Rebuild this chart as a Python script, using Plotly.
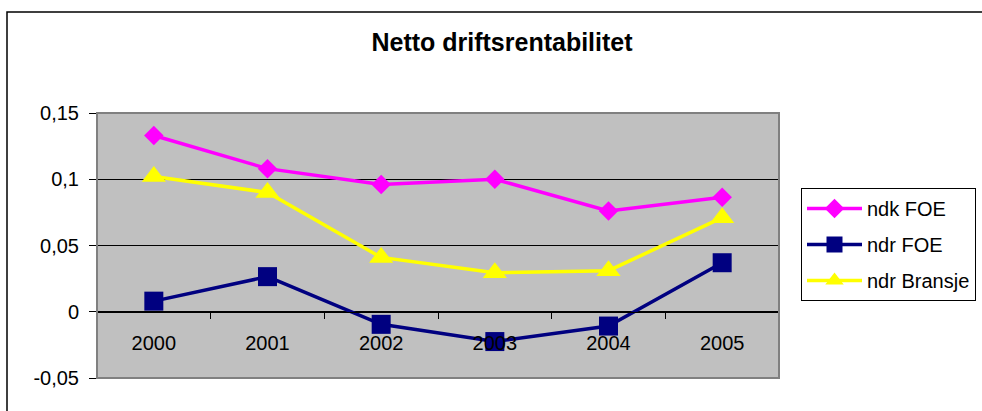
import plotly.graph_objects as go

years = ["2000", "2001", "2002", "2003", "2004", "2005"]
ndk_foe = [0.133, 0.108, 0.096, 0.100, 0.076, 0.0865]
ndr_foe = [0.008, 0.0265, -0.0095, -0.0225, -0.0108, 0.037]
ndr_bransje = [0.102, 0.090, 0.041, 0.0295, 0.031, 0.071]

y_ticks = [-0.05, 0, 0.05, 0.1, 0.15]
y_labels = ["-0,05", "0", "0,05", "0,1", "0,15"]

W, H = 982, 411
# plot area in pixels
left, right, top, bottom = 97, 779, 113, 378
y_range = [-0.05, 0.15]
zero_frac = 1 - (bottom - (0 - y_range[0]) / (y_range[1] - y_range[0]) * (bottom - top)) / H

font = "Arial, Liberation Sans, sans-serif"

fig = go.Figure()
series = [
    ("ndk FOE", ndk_foe, "#FF00FF", "diamond", 15),
    ("ndr FOE", ndr_foe, "#000080", "square", 19),
    ("ndr Bransje", ndr_bransje, "#FFFF00", "triangle-up", 21),
]
for name, vals, color, symbol, size in series:
    fig.add_trace(
        go.Scatter(
            x=years,
            y=vals,
            name=name,
            mode="lines+markers",
            line={"color": color, "width": 3.5},
            marker={"symbol": symbol, "size": size, "color": color},
            legendgroup=name,
        )
    )

# chart outer border (open on right/bottom, beyond the window)
fig.add_shape(
    type="rect", xref="paper", yref="paper",
    x0=7 / W, x1=1.05, y0=-0.1, y1=1 - 12 / H,
    line={"color": "black", "width": 1.5}, layer="below",
)
# plot area border
fig.add_shape(
    type="rect", xref="x domain", yref="y domain",
    x0=0, x1=1, y0=0, y1=1,
    line={"color": "#808080", "width": 2},
)

fig.update_layout(
    width=W,
    height=H,
    margin={"l": 0, "r": 0, "t": 0, "b": 0, "autoexpand": False},
    paper_bgcolor="white",
    plot_bgcolor="#C0C0C0",
    font={"family": font, "size": 20, "color": "black"},
    title={
        "text": "<b>Netto driftsrentabilitet</b>",
        "x": 502 / W,
        "xanchor": "center",
        "y": 1 - 42 / H,
        "yanchor": "middle",
        "font": {"size": 25, "family": font},
    },
    legend={
        "x": 801 / W,
        "y": 1 - 188 / H,
        "xanchor": "left",
        "yanchor": "top",
        "bgcolor": "white",
        "bordercolor": "black",
        "borderwidth": 1,
        "font": {"size": 20},
        "itemwidth": 55,
        "tracegroupgap": 7,
    },
    showlegend=True,
)
fig.update_xaxes(
    domain=[left / W, right / W],
    type="category",
    range=[-0.5, len(years) - 0.5],
    anchor="free",
    position=zero_frac,
    showgrid=False,
    showline=True,
    linecolor="black",
    linewidth=1,
    ticks="outside",
    tickson="boundaries",
    ticklen=6,
    tickcolor="black",
    ticklabelstandoff=13,
    zeroline=False,
)
fig.update_yaxes(
    domain=[1 - bottom / H, 1 - top / H],
    range=y_range,
    tickvals=y_ticks,
    ticktext=y_labels,
    showgrid=True,
    gridcolor="black",
    gridwidth=1,
    zeroline=True,
    zerolinecolor="black",
    zerolinewidth=1,
    showline=False,
    ticks="outside",
    ticklen=7,
    tickcolor="black",
    ticklabelstandoff=6,
)

# drop the page's default body margin so the figure sits at (0, 0)
fig.write_html(
    "out.html",
    config={"displayModeBar": False},
    post_script="document.body.style.margin='0';document.body.style.overflow='hidden';",
)
